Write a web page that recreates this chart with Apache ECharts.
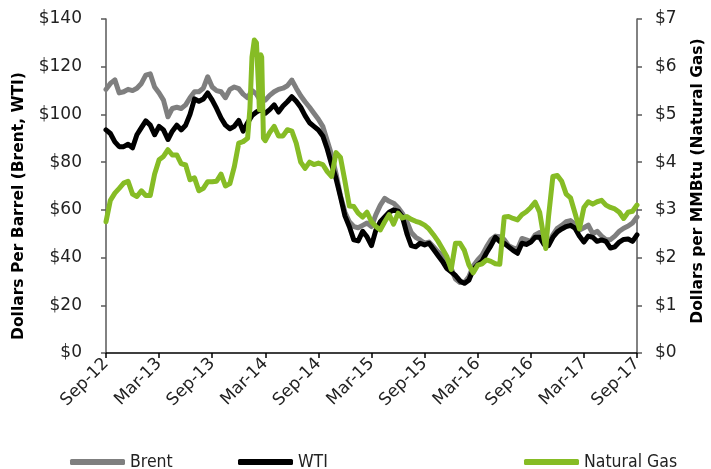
<!DOCTYPE html>
<html>
<head>
<meta charset="utf-8">
<script src="https://cdn.jsdelivr.net/npm/echarts@6/dist/echarts.min.js"></script>
<style>
  html, body { margin: 0; padding: 0; background: #ffffff; }
  #chart { width: 711px; height: 469px; }
</style>
</head>
<body>
<div id="chart"></div>
<script>
// X-axis tick labels, one every six months
const tickLabels = ['Sep-12', 'Mar-13', 'Sep-13', 'Mar-14', 'Sep-14', 'Mar-15',
                    'Sep-15', 'Mar-16', 'Sep-16', 'Mar-17', 'Sep-17'];

// Observation dates: the 1st and 16th of each month, Sep 2012 - Sep 2017
const priceDates = [];
for (let m = 0; m <= 60; m++) {
  const y = 2012 + Math.floor((8 + m) / 12);
  const mo = String(((8 + m) % 12) + 1).padStart(2, '0');
  priceDates.push(`${y}-${mo}-01`);
  if (m < 60) priceDates.push(`${y}-${mo}-16`);
}

// Brent crude, $/barrel
const brent = [
  110.5, 113, 114.5, 109, 109.5, 110.5, 110, 111, 113, 116.5,
  117, 111.5, 109, 106, 99, 102.5, 103, 102.5, 104, 107,
  109.5, 109.5, 111, 115.8, 111.5, 110, 109.5, 107, 110.5, 111.5,
  110.8, 108.5, 107, 110, 108.5, 105.5, 106, 108, 109.5, 110.5,
  111, 112, 114.4, 111, 107.8, 105.3, 103, 100.5, 98, 95,
  89, 83, 75, 66, 59, 55, 53, 52.5, 53.5, 54.5,
  53, 58, 62, 64.8, 63.6, 62.8, 61, 58.5, 55, 50.5,
  48.5, 47.4, 46, 46.5, 44.5, 42.5, 40.8, 38.5, 35.5, 31,
  29.5, 29.5, 32, 36.5, 39, 41, 44.5, 47.5, 49, 48.7,
  47.5, 45, 44, 43.5, 48, 47.4, 46.7, 49.5, 50.5, 47.5,
  45.5, 49.5, 52.3, 53.5, 55, 55.5, 54, 51.5, 52.5, 53.6,
  50, 51, 49, 47.5, 47.5, 49, 51, 52.3, 53.2, 54.5,
  57
];

// WTI crude, $/barrel
const wti = [
  93.5, 92, 88.5, 86.5, 86.5, 87.5, 86, 91.5, 94.5, 97.3,
  95.5, 91.5, 95, 93.5, 89.5, 93, 95.5, 93.5, 95.5, 100,
  106.5, 105.5, 106.5, 109, 106, 102.5, 98.5, 95.5, 94, 95,
  97.5, 93, 96.5, 99.5, 101, 102, 100.5, 102, 104, 101,
  103.5, 105.3, 107.4, 105.5, 103, 99.5, 96.5, 95, 93.5, 91,
  85.5, 79, 73, 65.5, 57.5, 53, 47.4, 47, 51, 48.7,
  45, 51.5, 55, 57, 59, 60, 59.5, 57, 50, 45,
  44.5, 46, 45.3, 46, 43.5, 41, 38.5, 35.5, 34, 32.5,
  30.2, 29.2, 30.5, 35, 37, 38.5, 42, 45, 48.5, 46.7,
  46, 44.5, 43, 41.8, 46, 45.5, 46.5, 48.5, 48.5, 45.5,
  45, 48.5, 50.8, 52, 53, 53.5, 52.3, 49, 46.5, 49,
  48.5, 46.8, 47.4, 46.8, 44, 44.5, 46.5, 47.6, 47.8, 46.8,
  49.5
];

// Henry Hub natural gas, $/MMBtu, on the same dates
const gas = [
  2.75, 3.2, 3.35, 3.45, 3.56, 3.6, 3.33, 3.28, 3.4, 3.3,
  3.3, 3.75, 4.05, 4.12, 4.26, 4.15, 4.15, 3.97, 3.94, 3.63,
  3.67, 3.4, 3.45, 3.59, 3.59, 3.6, 3.75, 3.5, 3.55, 3.9,
  4.4, 4.43, 4.5, 6.2, 6.5, 6.25, 4.45, 4.62, 4.75, 4.55,
  4.55, 4.68, 4.65, 4.4, 4.0, 3.87, 4.0, 3.95, 3.98, 3.95,
  3.8, 3.7, 4.2, 4.1, 3.6, 3.08, 3.07, 2.93, 2.85, 2.95,
  2.75, 2.65, 2.58, 2.75, 2.9, 2.7, 2.93, 2.83, 2.86, 2.8,
  2.76, 2.73, 2.68, 2.6, 2.48, 2.35, 2.19, 2.03, 1.75, 2.3,
  2.3, 2.15, 1.85, 1.68, 1.84, 1.87, 1.95, 1.92, 1.87, 1.86,
  2.85, 2.86, 2.82, 2.79, 2.9, 2.96, 3.05, 3.16, 2.95, 2.4,
  2.85, 3.7, 3.72, 3.6, 3.33, 3.25, 2.93, 2.6, 3.05, 3.17,
  3.12, 3.17, 3.2, 3.1, 3.05, 3.02, 2.95, 2.82, 2.95, 2.97,
  3.1
];

// Additional gas readings during short-lived swings
const gasExtraDates  = ['2014-01-09', '2014-01-24', '2014-02-08', '2014-02-11', '2014-02-19', '2014-02-25', '2016-10-22'];
const gasExtraValues = [5.13, 6.56, 5.6, 5.1, 6.2, 4.5, 2.19];

// Months elapsed since 1 Sep 2012
function monthOffset(s) {
  const [y, m, d] = s.split('-').map(Number);
  return (y - 2012) * 12 + (m - 9) + (d - 1) / 30.4;
}

const brentData = priceDates.map((d, i) => [monthOffset(d), brent[i]]);
const wtiData = priceDates.map((d, i) => [monthOffset(d), wti[i]]);
const gasData = priceDates.map((d, i) => [monthOffset(d), gas[i]])
  .concat(gasExtraDates.map((d, i) => [monthOffset(d), gasExtraValues[i]]))
  .sort((a, b) => a[0] - b[0]);

const FONT = 'DejaVu Sans, Verdana, sans-serif';
const LEGEND_FONT = '"DejaVu Sans Condensed", "Liberation Sans Narrow", sans-serif';
const GREY = '#7f7f7f';
const GREEN = '#86bc25';
const LINE_W = 5;

const chart = echarts.init(document.getElementById('chart'), null, { renderer: 'canvas' });

const legendBase = {
  top: 453,
  icon: 'roundRect',
  itemWidth: 55,
  itemHeight: 6,
  itemGap: 0,
  padding: 0,
  textStyle: { fontFamily: LEGEND_FONT, fontSize: 17.5, color: '#222222' }
};

const axisTitleStyle = {
  fontFamily: FONT,
  fontSize: 15.5,
  fontWeight: 'bold',
  fill: '#000000',
  textAlign: 'center',
  textVerticalAlign: 'middle'
};

chart.setOption({
  animation: false,
  backgroundColor: '#ffffff',
  grid: { left: 106, right: 74, top: 19, bottom: 116, containLabel: false },
  legend: [
    Object.assign({}, legendBase, { data: ['Brent'], left: 70 }),
    Object.assign({}, legendBase, { data: ['WTI'], left: 238 }),
    Object.assign({}, legendBase, { data: ['Natural Gas'], left: 524 })
  ],
  graphic: [
    {
      type: 'text',
      x: 19,
      y: 206,
      rotation: Math.PI / 2,
      style: Object.assign({ text: 'Dollars Per Barrel (Brent, WTI)' }, axisTitleStyle)
    },
    {
      type: 'text',
      x: 698,
      y: 181,
      rotation: Math.PI / 2,
      style: Object.assign({ text: 'Dollars per MMBtu (Natural Gas)' }, axisTitleStyle)
    }
  ],
  xAxis: {
    type: 'value',
    min: 0,
    max: 60,
    interval: 6,
    splitLine: { show: false },
    axisLine: { show: true, onZero: false, lineStyle: { color: '#000000', width: 1.5 } },
    axisTick: { show: true, inside: false, length: 5, lineStyle: { color: '#000000', width: 1.5 } },
    axisLabel: {
      rotate: 45,
      margin: 8,
      fontFamily: FONT,
      fontSize: 17,
      color: '#222222',
      formatter: v => tickLabels[Math.round(v / 6)] || ''
    }
  },
  yAxis: [
    {
      type: 'value',
      min: 0,
      max: 140,
      interval: 20,
      position: 'left',
      splitLine: { show: false },
      axisLine: { show: true, lineStyle: { color: '#595959', width: 1.5 } },
      axisTick: { show: true, inside: false, length: 5, lineStyle: { color: '#595959', width: 1.5 } },
      axisLabel: {
        margin: 24,
        fontFamily: FONT,
        fontSize: 17,
        color: '#222222',
        formatter: v => '$' + v
      }
    },
    {
      type: 'value',
      min: 0,
      max: 7,
      interval: 1,
      position: 'right',
      splitLine: { show: false },
      axisLine: { show: true, lineStyle: { color: '#595959', width: 1.5 } },
      axisTick: { show: true, inside: false, length: 5, lineStyle: { color: '#595959', width: 1.5 } },
      axisLabel: {
        margin: 18,
        fontFamily: FONT,
        fontSize: 17,
        color: '#222222',
        formatter: v => '$' + v
      }
    }
  ],
  series: [
    {
      name: 'Brent',
      type: 'line',
      yAxisIndex: 0,
      data: brentData,
      showSymbol: false,
      color: GREY,
      lineStyle: { color: GREY, width: LINE_W, cap: 'round', join: 'round' },
      z: 2
    },
    {
      name: 'WTI',
      type: 'line',
      yAxisIndex: 0,
      data: wtiData,
      showSymbol: false,
      color: '#000000',
      lineStyle: { color: '#000000', width: LINE_W, cap: 'round', join: 'round' },
      z: 3
    },
    {
      name: 'Natural Gas',
      type: 'line',
      yAxisIndex: 1,
      data: gasData,
      showSymbol: false,
      color: GREEN,
      lineStyle: { color: GREEN, width: LINE_W, cap: 'round', join: 'round' },
      z: 4
    }
  ]
});
</script>
</body>
</html>
